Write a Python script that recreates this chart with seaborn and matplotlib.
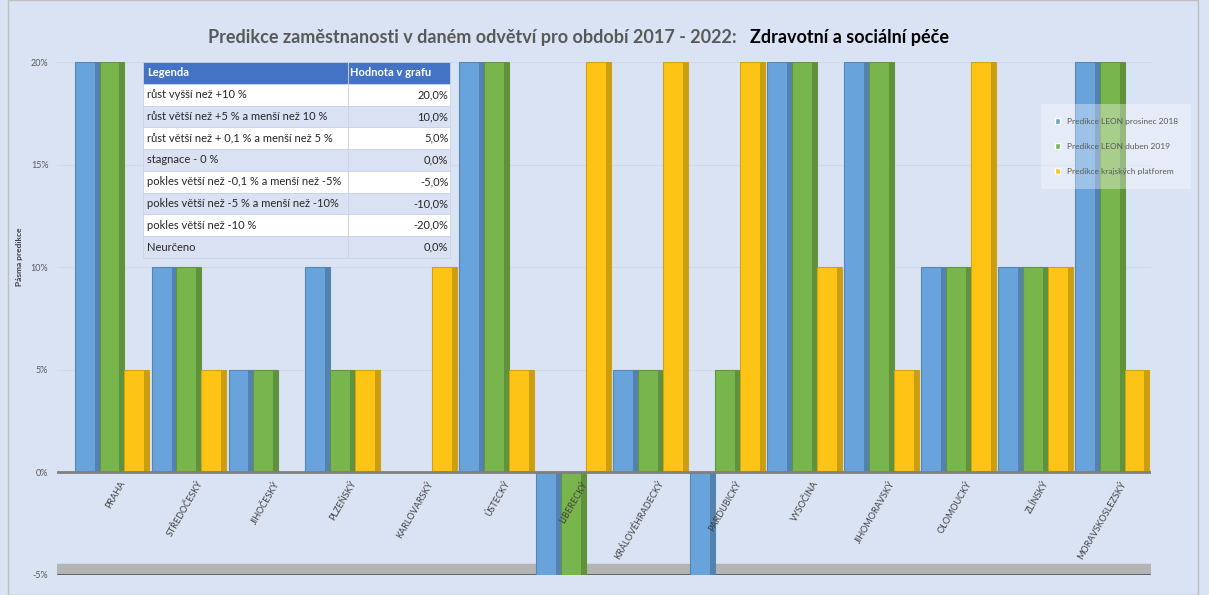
import pandas as pd
import matplotlib.pyplot as plt
import matplotlib.colors as mcolors
from matplotlib.patches import Rectangle
from matplotlib.ticker import FuncFormatter
import seaborn as sns

kraje = ["PRAHA", "STŘEDOČESKÝ", "JIHOČESKÝ", "PLZEŇSKÝ", "KARLOVARSKÝ", "ÚSTECKÝ",
         "LIBERECKÝ", "KRÁLOVÉHRADECKÝ", "PARDUBICKÝ", "VYSOČINA", "JIHOMORAVSKÝ",
         "OLOMOUCKÝ", "ZLÍNSKÝ", "MORAVSKOSLEZSKÝ"]
serie = ["Predikce LEON prosinec 2018", "Predikce LEON duben 2019",
         "Predikce krajských platforem"]
leon_2018 = [20, 10, 5, 10, 0, 20, -5, 5, -5, 20, 20, 10, 10, 20]
leon_2019 = [20, 10, 5, 5, 0, 20, -5, 5, 5, 20, 20, 10, 10, 20]
platformy = [5, 5, 0, 5, 10, 5, 20, 20, 20, 10, 5, 20, 10, 5]

legenda_popis = ["růst vyšší než +10 %", "růst větší než +5 % a menší než 10 %",
                 "růst větší než + 0,1 % a menší než 5 %", "stagnace - 0 %",
                 "pokles větší než -0,1 % a menší než -5%",
                 "pokles větší než -5 % a menší než -10%",
                 "pokles větší než -10 %", "Neurčeno"]
legenda_hodnota = ["20,0%", "10,0%", "5,0%", "0,0%", "-5,0%", "-10,0%", "-20,0%", "0,0%"]

barvy = ["#68a3db", "#78b54c", "#fec415"]
bg = "#dae3f3"

df = pd.DataFrame({
    "kraj": kraje * 3,
    "serie": [serie[0]] * 14 + [serie[1]] * 14 + [serie[2]] * 14,
    "hodnota": leon_2018 + leon_2019 + platformy,
})

sns.set_style("white")
plt.rcParams["font.family"] = ["Lato", "DejaVu Sans"]

fig = plt.figure(figsize=(12.09, 5.95), dpi=100, facecolor=bg)
ax = fig.add_axes([56.6 / 1209, 20 / 595, 1094 / 1209, 513 / 595])
ax.set_facecolor(bg)

sns.barplot(data=df, x="kraj", y="hodnota", hue="serie", palette=barvy,
            saturation=1, width=0.97, gap=0, ax=ax, zorder=3)

# 3D-ish boky sloupcu
for p in list(ax.patches):
    h = p.get_height()
    if h == 0 or pd.isna(h):
        continue
    c = p.get_facecolor()
    p.set_edgecolor(mcolors.to_rgba([v * 0.82 for v in c[:3]]))
    p.set_linewidth(0.8)
    x, w, y = p.get_x(), p.get_width(), p.get_y()
    dark = [v * 0.8 for v in c[:3]]
    ax.add_patch(Rectangle((x + w * 0.8, y), w * 0.2, h, facecolor=dark,
                           edgecolor="none", zorder=4))

ax.set_ylim(-5, 20)
ax.set_xlim(-0.72, 13.5)
ax.set_yticks([-5, 0, 5, 10, 15, 20])
ax.yaxis.set_major_formatter(FuncFormatter(lambda v, _: f"{v:.0f}%"))
ax.tick_params(axis="y", length=0, labelsize=6.5, labelcolor="#595959", pad=6)
for v in [5, 10, 15, 20]:
    ax.axhline(v, color="#cfd8e8", lw=0.8, zorder=1)

ax.axhspan(-5, -4.45, color="#b4b4b4", zorder=1)
ax.axhline(0, color="#7f7f7f", lw=2, zorder=5)
ax.axhline(-5, color="#595959", lw=2, zorder=2)
for s in ax.spines.values():
    s.set_visible(False)

ax.set_xlabel("")
ax.set_ylabel("Pásma predikce", fontsize=6, fontweight="bold", color="#404040")
ax.yaxis.set_label_coords(-0.031, 0.62)
ax.xaxis.set_ticks_position("none")
ax.set_xticks(range(len(kraje)))
ax.set_xticklabels([])
for i, k in enumerate(kraje):
    ax.text(i + 0.1, -0.35, k, rotation=60, ha="right", va="top", rotation_mode="anchor",
            fontsize=6.5, color="#404040", zorder=6)

# tabulka legendy
cell_text = [[a, b] for a, b in zip(legenda_popis, legenda_hodnota)]
tab = ax.table(cellText=cell_text, colLabels=["Legenda", "Hodnota v grafu"],
               colWidths=[0.668, 0.332], bbox=[0.079, 0.618, 0.281, 0.382],
               cellLoc="left", zorder=10)
tab.auto_set_font_size(False)
tab.set_fontsize(8)
for (r, c), cell in tab.get_celld().items():
    cell.set_edgecolor("#c9d3e6")
    cell.set_linewidth(0.6)
    cell.PAD = 0.02
    cell.get_text().set_horizontalalignment("left")
    if r == 0:
        cell.set_facecolor("#4472c4")
        cell.get_text().set_color("white")
        cell.get_text().set_fontweight("bold")
    else:
        cell.set_facecolor("white" if r % 2 == 1 else "#d9e1f2")
        cell.get_text().set_color("#262626")
    if c == 1 and r > 0:
        cell._loc = "right"
        cell.get_text().set_horizontalalignment("right")
    else:
        cell._loc = "left"

sns.move_legend(ax, "upper left", bbox_to_anchor=(1037 / 1209, 1 - 100 / 595),
                bbox_transform=fig.transFigure, title=None, fontsize=6,
                frameon=True, handlelength=0.7, handleheight=0.7,
                labelspacing=2.2, borderpad=1.6, labelcolor="#595959")
leg = ax.get_legend()
leg.get_frame().set_facecolor("white")
leg.get_frame().set_alpha(0.35)
leg.get_frame().set_edgecolor("none")
leg.set_zorder(20)

fig.text(737 / 1209, 1 - 37 / 595, "Predikce zaměstnanosti v daném odvětví pro období 2017 - 2022:",
         ha="right", va="center", fontsize=13, fontweight="bold", color="#595959")
fig.text(750 / 1209, 1 - 37 / 595, "Zdravotní a sociální péče",
         ha="left", va="center", fontsize=13, fontweight="bold", color="black")

fig.patches.append(Rectangle((8 / 1209, 0), 1190 / 1209, 1, transform=fig.transFigure,
                             fill=False, edgecolor="#bfbfbf", lw=1))

fig.savefig("out.png", dpi=100, facecolor=bg)
